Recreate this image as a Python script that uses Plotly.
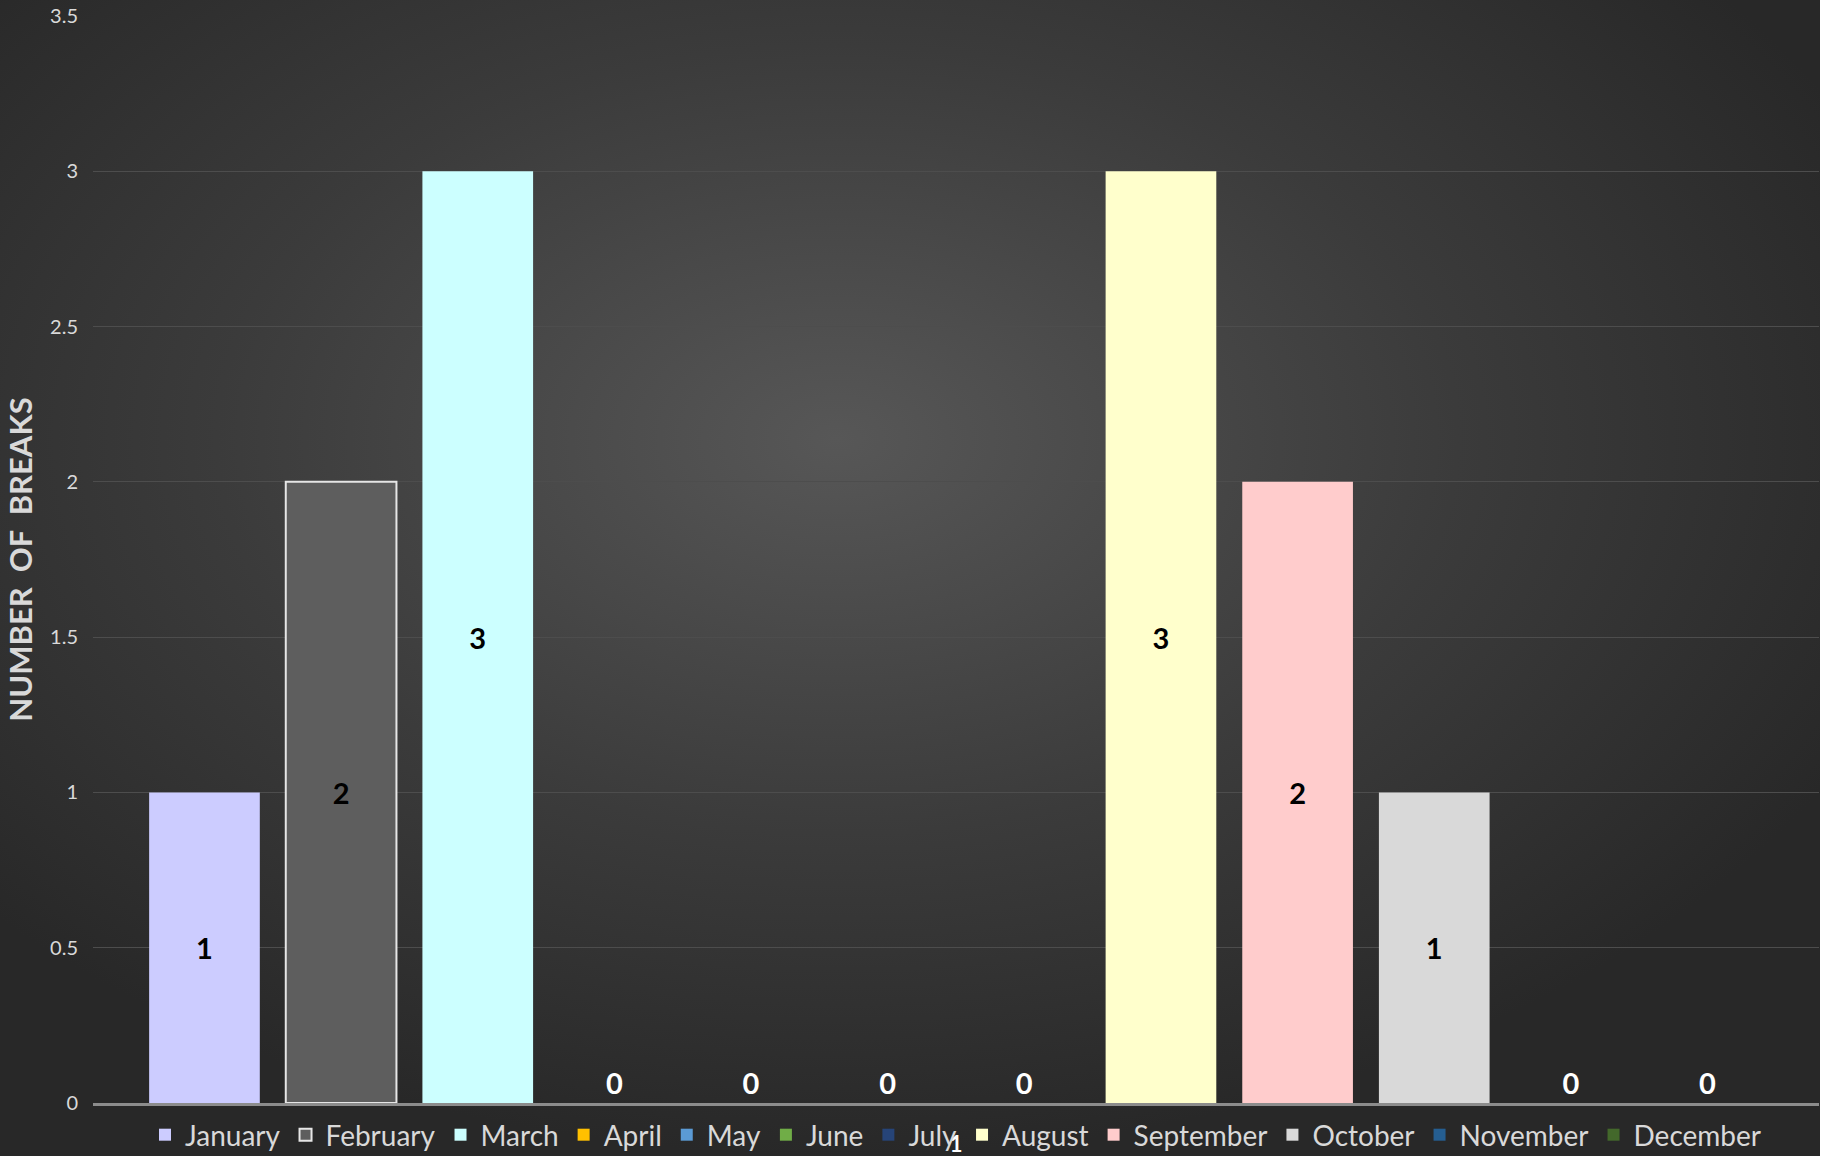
import base64
import plotly.graph_objects as go

months = ["January", "February", "March", "April", "May", "June",
          "July", "August", "September", "October", "November", "December"]
breaks = [1, 2, 3, 0, 0, 0, 0, 3, 2, 1, 0, 0]
category = ["1"]
colors = ["#ccccff", "#5e5e5e", "#ccffff", "#ffc000", "#5b9bd5", "#70ad47",
          "#264478", "#ffffcc", "#ffcccc", "#d9d9d9", "#255e91", "#43682b"]
line_colors = ["#ccccff", "#e6e6e6", "#ccffff", "#ffc000", "#5b9bd5", "#70ad47",
               "#264478", "#ffffcc", "#ffcccc", "#d9d9d9", "#255e91", "#43682b"]

W, H = 1828, 1156
ML, MR, MT, MB = 93, 9, 16, 53
PW, PH = W - ML - MR, H - MT - MB

FONT = "Lato"

fig = go.Figure()
for m, v, c, lc in zip(months, breaks, colors, line_colors):
    fig.add_trace(go.Bar(
        name=m, x=category, y=[v],
        marker=dict(color=c, line=dict(color=lc, width=2 if m == "February" else 0)),
        text=[str(v)],
        textposition="inside" if v > 0 else "outside",
        insidetextanchor="middle",
        textfont=dict(family=FONT, size=29,
                      color="#000000" if v > 0 else "#ffffff", weight="bold"),
        cliponaxis=False,
        hoverinfo="skip",
    ))

svg = f'''<svg xmlns="http://www.w3.org/2000/svg" width="1820" height="1156">
<defs><radialGradient id="g" cx="46%" cy="38%" r="62%">
<stop offset="0" stop-color="#575757"/><stop offset="0.55" stop-color="#3b3b3b"/>
<stop offset="1" stop-color="#282828"/></radialGradient></defs>
<rect width="1820" height="1156" fill="url(#g)"/></svg>'''
src = "data:image/svg+xml;base64," + base64.b64encode(svg.encode()).decode()

fig.update_layout(
    width=W, height=H,
    margin=dict(l=ML, r=MR, t=MT, b=MB, autoexpand=False),
    paper_bgcolor="#ffffff",
    plot_bgcolor="rgba(0,0,0,0)",
    barmode="group",
    bargap=0.05,
    bargroupgap=0.19,
    font=dict(family=FONT, color="#d9d9d9"),
    images=[dict(source=src, xref="paper", yref="paper",
                 x=-ML / PW, y=1 + MT / PH, sizex=1820 / PW, sizey=H / PH,
                 xanchor="left", yanchor="top", sizing="stretch", layer="below")],
    legend=dict(orientation="h", x=0.5, xanchor="center", y=-32 / PH, yanchor="middle",
                font=dict(family=FONT, size=28, color="#d9d9d9"),
                bgcolor="rgba(0,0,0,0)", itemwidth=30, tracegroupgap=0),
    showlegend=True,
)
fig.update_yaxes(
    range=[0, 3.5], dtick=0.5, showgrid=True, gridcolor="#4d4d4d", gridwidth=1,
    zeroline=False, showline=False,
    tickfont=dict(family=FONT, size=20, color="#d9d9d9"),
    ticklabelstandoff=14,
    title=dict(text="NUMBER\u00a0\u00a0OF\u00a0\u00a0BREAKS",
               font=dict(family=FONT, size=31, color="#d9d9d9", weight="bold"),
               standoff=8),
)
fig.update_xaxes(
    showline=True, linecolor="#8c8c8c", linewidth=3, showgrid=False,
    tickfont=dict(family=FONT, size=22, color="#ffffff", weight="bold"),
    ticklabelstandoff=20,
)

fig.write_html("out.html")
